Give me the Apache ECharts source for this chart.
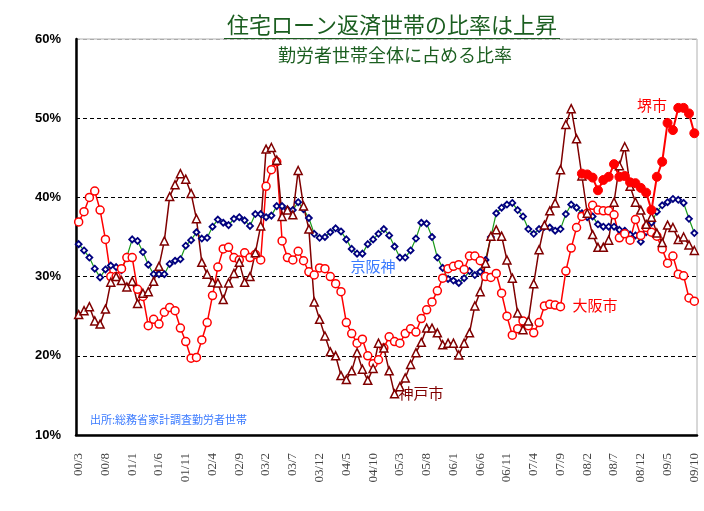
<!DOCTYPE html>
<html><head><meta charset="utf-8">
<script src="https://cdn.jsdelivr.net/npm/echarts@6/dist/echarts.min.js"></script>
<style>html,body{margin:0;padding:0;background:#fff}#c{width:704px;height:511px}</style>
</head><body><div id="c"></div>
<script>
// months 2000/3 .. 2009/10
const categories = [];
for (let y = 0; y <= 9; y++) {
  for (let m = 1; m <= 12; m++) {
    if (y === 0 && m < 3) continue;
    if (y === 9 && m > 10) continue;
    categories.push('0' + y + '/' + m);
  }
}
const yTicks = [10, 20, 30, 40, 50, 60];

const keihanshin = [34.1,33.3,32.4,31.0,29.9,30.9,31.4,31.2,30.8,32.5,34.7,34.5,33.1,31.5,30.3,30.3,30.3,31.6,32.0,32.2,
33.9,34.6,35.6,34.8,34.9,36.3,37.2,36.8,36.5,37.3,37.5,37.1,36.4,37.9,37.9,37.5,37.7,38.9,38.9,38.5,
38.4,39.4,38.5,37.4,35.4,34.9,35.0,35.6,36.1,35.7,34.7,33.5,32.9,32.9,34.1,34.7,35.4,36.0,35.2,33.8,
32.4,32.4,33.3,34.8,36.8,36.7,35.0,32.4,31.1,29.7,29.5,29.2,29.8,30.7,30.2,30.6,32.1,35.0,38.0,38.7,
39.1,39.3,38.4,37.6,36.0,35.4,36.0,36.3,36.2,35.8,36.0,37.9,39.1,38.7,38.0,37.5,37.6,36.6,36.3,36.3,
36.3,35.9,35.8,35.3,35.2,34.4,35.6,36.8,38.2,39.0,39.4,39.8,39.7,39.3,37.3,35.5];

const osaka = [36.9,38.2,40.0,40.8,38.4,34.7,30.0,30.0,31.0,32.4,32.4,28.4,27.5,23.8,24.6,24.0,25.5,26.1,25.7,23.5,
21.8,19.7,19.8,22.0,24.2,27.6,31.2,33.5,33.7,32.4,32.1,33.0,32.4,32.8,32.1,41.4,43.5,44.5,34.5,32.4,
32.1,33.2,32.0,30.6,30.2,31.1,31.0,30.0,29.1,28.1,24.2,22.8,21.6,22.1,20.0,19.0,19.5,21.0,22.4,21.8,
21.6,22.8,23.4,23.0,24.7,25.8,26.8,28.2,29.8,31.0,31.3,31.5,30.9,32.6,32.6,32.0,30.0,29.9,30.4,27.9,
25.0,22.6,23.4,24.4,23.8,22.9,24.2,26.3,26.5,26.4,26.2,30.7,33.6,36.2,37.6,38.0,39.0,38.4,38.3,38.3,
37.8,34.9,35.4,34.6,37.2,35.2,36.2,35.6,35.1,33.5,31.7,32.6,30.3,30.1,27.3,26.9];

const kobe = [25.2,25.7,26.2,24.4,24.0,25.9,29.3,30.0,29.5,28.7,29.4,26.6,27.9,28.1,29.4,31.3,34.5,40.1,41.6,43.0,
42.3,40.5,37.3,31.8,30.3,29.3,29.2,27.1,29.2,30.4,31.8,29.3,30.0,33.0,36.4,46.1,46.3,44.7,37.6,38.4,
37.8,43.4,38.9,36.0,26.8,24.6,22.5,20.5,20.0,17.5,17.0,18.1,20.4,18.3,16.9,18.4,21.6,21.0,18.1,15.2,
16.1,17.2,18.9,20.4,21.7,23.5,23.5,22.9,21.4,21.6,21.6,20.1,21.6,22.9,26.3,28.1,31.7,35.1,35.9,35.1,
32.1,29.8,25.4,23.3,24.4,29.1,33.4,36.5,38.3,39.3,43.5,49.2,51.2,47.4,42.7,38.0,35.3,33.7,33.7,34.6,
39.4,44.0,46.4,41.4,39.4,38.4,36.6,37.5,35.5,34.3,36.5,36.2,34.7,35.0,34.0,33.3];

// 堺市 starts at index 94
const sakaiStart = 94;
const sakaiValues = [43.0,42.9,42.5,40.9,42.2,42.6,44.2,42.6,42.7,41.9,41.8,41.2,40.6,38.4,42.6,44.5,49.4,48.5,51.3,51.3,50.6,48.1];
const sakai = categories.map((c, i) => i >= sakaiStart ? sakaiValues[i - sakaiStart] : null);

const chart = echarts.init(document.getElementById('c'));
const jp = '"Noto Sans CJK JP", sans-serif';
chart.setOption({
  animation: false,
  backgroundColor: '#fff',
  grid: { left: 76, right: 7, top: 39, bottom: 76, show: true, borderColor: '#b0b0b0', borderWidth: 1 },
  xAxis: {
    type: 'category', data: categories, boundaryGap: true,
    axisLine: { lineStyle: { color: '#000', width: 2.5 } },
    axisTick: { interval: 4, inside: true, length: 5, lineStyle: { color: '#000', width: 1.5 } },
    axisLabel: { interval: 4, rotate: 90, margin: 18, fontFamily: '"Liberation Serif", serif', fontSize: 13, color: '#444' },
    splitLine: { show: false }
  },
  yAxis: {
    type: 'value', min: yTicks[0], max: yTicks[yTicks.length - 1], interval: 10,
    axisLine: { show: true, lineStyle: { color: '#000', width: 2.5 } },
    axisTick: { show: false },
    axisLabel: { formatter: '{value}%', fontWeight: 'bold', fontSize: 13, color: '#000', margin: 15, fontFamily: '"Liberation Sans", Arial, sans-serif' },
    splitLine: { lineStyle: { type: [4, 3], color: ['rgba(0,0,0,0)', '#000', '#000', '#000', '#000', '#aaa'], width: 1 } }
  },
  series: [
    { name: '京阪神', type: 'line', data: keihanshin, symbol: 'diamond', symbolSize: 6, showAllSymbol: true,
      lineStyle: { color: '#1a9a1a', width: 1.2 },
      itemStyle: { color: '#fff', borderColor: '#00007f', borderWidth: 1.8 } },
    { name: '大阪市', type: 'line', data: osaka, symbol: 'circle', symbolSize: 8, showAllSymbol: true,
      lineStyle: { color: '#ff0000', width: 1.5 },
      itemStyle: { color: '#fff', borderColor: '#ff0000', borderWidth: 1.5 } },
    { name: '神戸市', type: 'line', data: kobe, symbol: 'triangle', symbolSize: 8, showAllSymbol: true,
      lineStyle: { color: '#800000', width: 1.5 },
      itemStyle: { color: '#fff', borderColor: '#800000', borderWidth: 1.5 } },
    { name: '堺市', type: 'line', data: sakai, symbol: 'circle', symbolSize: 9, showAllSymbol: true,
      lineStyle: { color: '#ff0000', width: 2 },
      itemStyle: { color: '#ff0000', borderColor: '#ff0000', borderWidth: 1 } }
  ],
  graphic: [
    { type: 'text', position: [392, 14], style: { text: '住宅ローン返済世帯の比率は上昇', font: '22px ' + jp, fill: '#1b5e20', textAlign: 'center' } },
    { type: 'line', shape: { x1: 224, y1: 38.5, x2: 560, y2: 38.5 }, style: { stroke: '#1b5e20', lineWidth: 1 } },
    { type: 'text', position: [395, 46], style: { text: '勤労者世帯全体に占める比率', font: '18px ' + jp, fill: '#1b5e20', textAlign: 'center' } },
    { type: 'text', position: [652, 98], style: { text: '堺市', font: '15px ' + jp, fill: '#ff0000', textAlign: 'center' } },
    { type: 'text', position: [595, 298], style: { text: '大阪市', font: '15px ' + jp, fill: '#ff0000', textAlign: 'center' } },
    { type: 'text', position: [373, 259], style: { text: '京阪神', font: '15px ' + jp, fill: '#3b7bff', textAlign: 'center' } },
    { type: 'text', position: [421, 386], style: { text: '神戸市', font: '15px ' + jp, fill: '#800000', textAlign: 'center' } },
    { type: 'text', position: [90, 414], style: { text: '出所:総務省家計調査勤労者世帯', font: '11px ' + jp, fill: '#3b7bff', textAlign: 'left' } }
  ]
});
</script></body></html>
